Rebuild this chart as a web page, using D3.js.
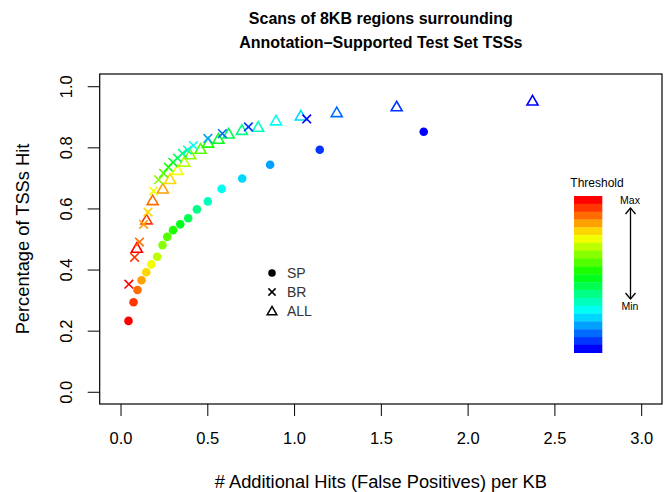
<!DOCTYPE html>
<html><head><meta charset="utf-8">
<script src="https://cdn.jsdelivr.net/npm/d3@7"></script>
<style>body{margin:0;background:#fff}svg{display:block}text{font-family:"Liberation Sans",Arial,Helvetica,sans-serif}</style>
</head><body>
<svg id="c" width="672" height="492"></svg>
<script>
// ---- data ----
const spX = [0.046,0.075,0.098,0.121,0.148,0.177,0.211,0.242,0.269,0.303,0.344,0.390,0.440,0.503,0.583,0.701,0.862,1.148,1.747];
const spY = [0.232,0.293,0.333,0.365,0.391,0.417,0.442,0.480,0.507,0.529,0.548,0.568,0.597,0.623,0.664,0.698,0.743,0.792,0.851];
const spC = [0,1,2,3,4,5,6,7,8,9,10,11,12,13,14,15,16,18,19];

const brX = [0.048,0.081,0.109,0.133,0.158,0.190,0.219,0.248,0.276,0.302,0.328,0.357,0.386,0.420,0.503,0.587,0.737,1.073];
const brY = [0.352,0.440,0.490,0.548,0.588,0.657,0.694,0.715,0.735,0.751,0.765,0.780,0.791,0.806,0.829,0.845,0.867,0.893];
const brC = [0,1,2,3,4,5,7,8,9,10,11,12,13,14,16,17,18,19];

const allX = [0.094,0.150,0.185,0.244,0.286,0.328,0.367,0.401,0.461,0.505,0.564,0.623,0.699,0.793,0.896,1.039,1.246,1.591,2.374];
const allY = [0.467,0.560,0.623,0.661,0.692,0.722,0.749,0.773,0.791,0.811,0.824,0.841,0.853,0.863,0.884,0.900,0.911,0.930,0.949];
const allC = [0,1,2,3,4,5,6,7,8,9,10,11,12,13,14,15,17,18,19];

const xTicks = [0,0.5,1,1.5,2,2.5,3];
const yTicks = [0,0.2,0.4,0.6,0.8,1.0];
const legendLabels = ["SP","BR","ALL"];
const nLevels = 20;
const titleLines = ["Scans of 8KB regions surrounding","Annotation\u2013Supported Test Set TSSs"];

// ---- drawing ----
const palette = d3.range(nLevels).map(i => d3.hsl(i/(nLevels-1)*240, 1, 0.5).formatHex());
const svg = d3.select("#c");
const L = 99.7, R = 662, T = 74, B = 404;
const x = d3.scaleLinear().domain([-0.12, 3.12]).range([L, R]);
const y = d3.scaleLinear().domain([-0.04, 1.04]).range([B, T]);

// title
svg.append("g").selectAll("text").data(titleLines).join("text")
  .attr("x", (L+R)/2).attr("y", (d,i) => 24 + i*23.5)
  .attr("text-anchor","middle").attr("font-size",16).attr("font-weight","bold").text(d=>d);

// axes
const gx = svg.append("g").attr("transform",`translate(0,${B})`)
  .call(d3.axisBottom(x).tickValues(xTicks).tickFormat(d3.format(".1f")).tickSize(12).tickSizeOuter(0));
gx.select(".domain").remove();
gx.selectAll("line").attr("stroke","#000");
gx.selectAll("text").attr("font-size",16.5).attr("fill","#000").attr("dy",null).attr("y",40);

const gy = svg.append("g").attr("transform",`translate(${L},0)`)
  .call(d3.axisLeft(y).tickValues(yTicks).tickFormat(d3.format(".1f")).tickSize(12).tickSizeOuter(0));
gy.select(".domain").remove();
gy.selectAll("line").attr("stroke","#000");
gy.selectAll("text").attr("font-size",16.5).attr("fill","#000")
  .attr("x",null).attr("dy",null).attr("text-anchor","middle")
  .attr("transform","translate(-28,0) rotate(-90)");

svg.append("rect").attr("x",L).attr("y",T).attr("width",R-L).attr("height",B-T)
  .attr("fill","none").attr("stroke","#000").attr("stroke-width",1.2);

svg.append("text").attr("x",(L+R)/2).attr("y",488).attr("text-anchor","middle")
  .attr("font-size",18.3).text("# Additional Hits (False Positives) per KB");
svg.append("text").attr("transform",`translate(29,${(T+B)/2}) rotate(-90)`).attr("text-anchor","middle")
  .attr("font-size",18.3).text("Percentage of TSSs Hit");

// marker helpers
const triPath = (cx, cy, s) => `M${cx},${cy-1.555*s}L${cx+1.347*s},${cy+0.778*s}L${cx-1.347*s},${cy+0.778*s}Z`;
const crossPath = (cx, cy, s) => `M${cx-s},${cy-s}L${cx+s},${cy+s}M${cx-s},${cy+s}L${cx+s},${cy-s}`;

// SP
svg.append("g").selectAll("circle").data(spX.map((v,i)=>({x:v,y:spY[i],c:spC[i]}))).join("circle")
  .attr("cx",d=>x(d.x)).attr("cy",d=>y(d.y)).attr("r",4.3).attr("fill",d=>palette[d.c]);
// ALL
svg.append("g").selectAll("path").data(allX.map((v,i)=>({x:v,y:allY[i],c:allC[i]}))).join("path")
  .attr("d",d=>triPath(x(d.x),y(d.y),4.1)).attr("fill","none").attr("stroke",d=>palette[d.c]).attr("stroke-width",1.6);
// BR
svg.append("g").selectAll("path").data(brX.map((v,i)=>({x:v,y:brY[i],c:brC[i]}))).join("path")
  .attr("d",d=>crossPath(x(d.x),y(d.y),4.3)).attr("fill","none").attr("stroke",d=>palette[d.c]).attr("stroke-width",1.6);

// legend
const lg = svg.append("g");
const ly = [273, 292, 311];
lg.append("circle").attr("cx",272).attr("cy",ly[0]).attr("r",3.8).attr("fill","#000");
lg.append("path").attr("d",crossPath(272,ly[1],3.6)).attr("stroke","#000").attr("stroke-width",1.5);
lg.append("path").attr("d",triPath(272,ly[2]+1,3.6)).attr("fill","none").attr("stroke","#000").attr("stroke-width",1.5);
lg.selectAll("text").data(legendLabels).join("text")
  .attr("x",287).attr("y",(d,i)=>ly[i]+5).attr("font-size",14).attr("fill","#333").text(d=>d);

// color bar
const band = d3.scaleBand().domain(d3.range(nLevels)).range([196, 352.7]);
svg.append("g").selectAll("rect").data(d3.range(nLevels)).join("rect")
  .attr("x",574).attr("y",d=>band(d)).attr("width",28.3).attr("height",band.bandwidth()+0.3)
  .attr("fill",d=>palette[d]);
svg.append("text").attr("x",597).attr("y",187).attr("text-anchor","middle").attr("font-size",12).text("Threshold");
svg.append("text").attr("x",630).attr("y",204).attr("text-anchor","middle").attr("font-size",10.5).text("Max");
svg.append("text").attr("x",630).attr("y",310).attr("text-anchor","middle").attr("font-size",10.5).text("Min");
const ar = svg.append("g").attr("stroke","#000").attr("stroke-width",1.3).attr("fill","none");
ar.append("line").attr("x1",630.5).attr("x2",630.5).attr("y1",208).attr("y2",299);
ar.append("path").attr("d","M625.5,214L630.5,208L635.5,214");
ar.append("path").attr("d","M625.5,293L630.5,299L635.5,293");
</script>
</body></html>
